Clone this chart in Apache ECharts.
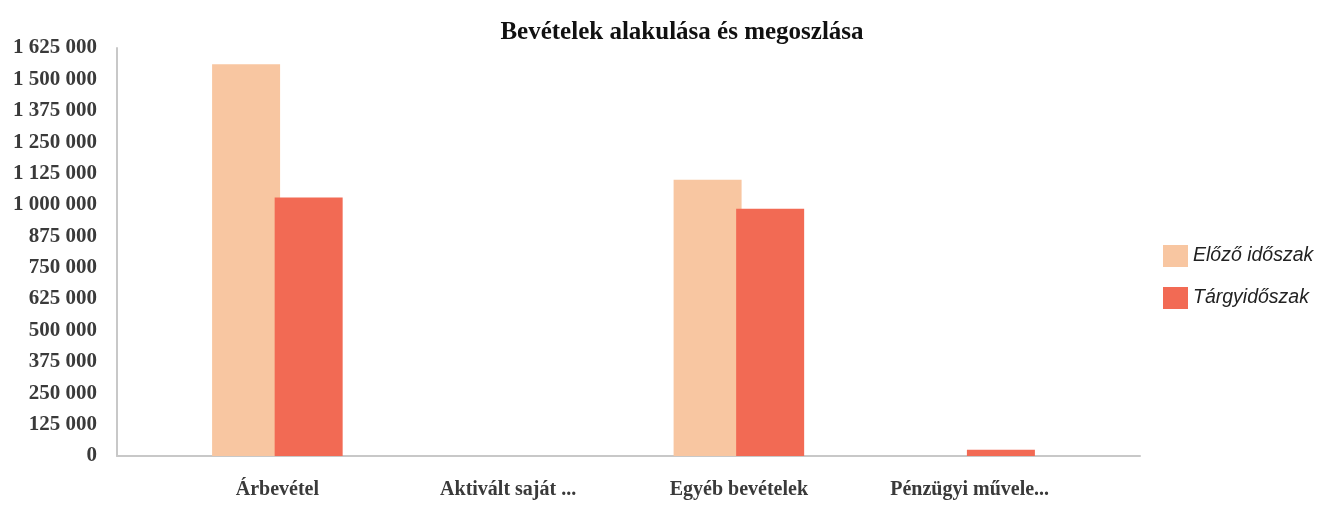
<!DOCTYPE html>
<html>
<head>
<meta charset="utf-8">
<script src="https://cdn.jsdelivr.net/npm/echarts@6/dist/echarts.min.js"></script>
<style>html,body{margin:0;padding:0;background:#fff}#c{width:1317px;height:506px}</style>
</head>
<body>
<div id="c"></div>
<script>
var categories = ['Árbevétel', 'Aktivált saját ...', 'Egyéb bevételek', 'Pénzügyi művele...'];
var seriesNames = ['Előző időszak', 'Tárgyidőszak'];
var prevValues = [1560000, 0, 1100000, 0];
var currValues = [1030000, 0, 985000, 25000];
var yMax = 1625000;
var yStep = 125000;

var chart = echarts.init(document.getElementById('c'));
function fmt(v){ return String(v).replace(/\B(?=(\d{3})+(?!\d))/g, ' '); }
var serif = '"Liberation Serif", "DejaVu Serif", serif';
chart.setOption({
  animation: false,
  title: {
    text: 'Bevételek alakulása és megoszlása',
    left: 677, top: 15, textAlign: 'center',
    textStyle: { fontFamily: serif, fontWeight: 'bold', fontSize: 25, color: '#111' }
  },
  legend: {
    orient: 'vertical', left: 1158, top: 240, itemWidth: 25, itemHeight: 22, itemGap: 20,
    icon: 'rect',
    data: seriesNames,
    textStyle: { fontFamily: '"Liberation Sans", Arial, sans-serif', fontStyle: 'italic', fontSize: 19.5, color: '#222' }
  },
  grid: [
    { left: 117, right: 177, top: 48, bottom: 50 },
    { left: 162, right: 232, top: 48, bottom: 50 }
  ],
  xAxis: [
    { type: 'category', gridIndex: 0, data: [''], axisLabel: { show: false }, axisTick: { show: false },
      axisLine: { lineStyle: { color: '#c8c8c8', width: 2 } } },
    { type: 'category', gridIndex: 1, data: categories, axisTick: { show: false },
      axisLine: { show: false },
      axisLabel: { margin: 24, fontFamily: serif, fontWeight: 'bold', fontSize: 20, color: '#3a3a3a', interval: 0 } }
  ],
  yAxis: [
    { type: 'value', gridIndex: 0, min: 0, max: yMax, interval: yStep,
      axisLine: { show: true, lineStyle: { color: '#c8c8c8', width: 2 } },
      axisTick: { show: false }, splitLine: { show: false },
      axisLabel: { formatter: fmt, margin: 20, fontFamily: serif, fontWeight: 'bold', fontSize: 21, color: '#3a3a3a' } },
    { type: 'value', gridIndex: 1, min: 0, max: yMax, interval: yStep, show: false, splitLine: { show: false } }
  ],
  series: [
    { name: seriesNames[0], type: 'bar', xAxisIndex: 1, yAxisIndex: 1, data: prevValues,
      barWidth: 68, barGap: '-8%', itemStyle: { color: '#F8C6A1' } },
    { name: seriesNames[1], type: 'bar', xAxisIndex: 1, yAxisIndex: 1, data: currValues,
      barWidth: 68, itemStyle: { color: '#F26A54' } }
  ]
});
</script>
</body>
</html>
